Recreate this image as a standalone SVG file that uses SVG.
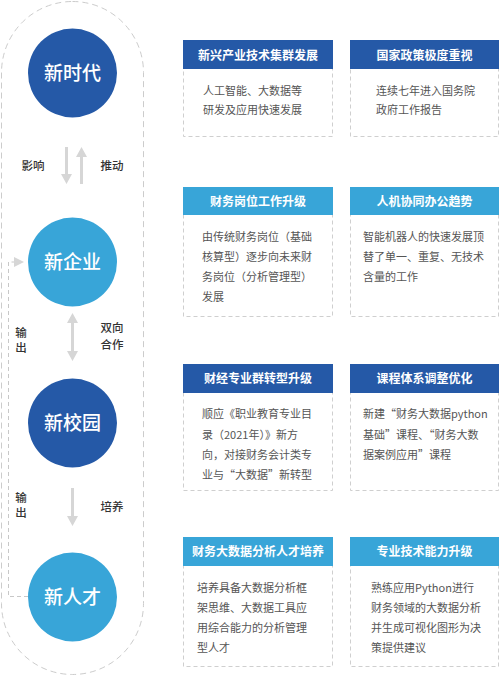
<svg xmlns="http://www.w3.org/2000/svg" width="500" height="677" viewBox="0 0 500 677">
<style>
  text { font-family: "Noto Sans CJK SC", "Noto Sans", sans-serif; }
  .circ-text { font-size: 19px; fill: #ffffff; text-anchor: middle; font-weight: 500; }
  .lbl { font-size: 11.5px; fill: #333333; font-weight: 500; }
  .hdr-text { font-size: 12px; fill: #ffffff; font-weight: 700; text-anchor: middle; }
  .body-text { font-size: 11px; fill: #555555; }
  .fw { font-feature-settings: "fwid" 1; }
  .dark { fill: #2559a7; }
  .light { fill: #38a5d8; }
  .box { fill: #ffffff; stroke: #cfcfcf; stroke-width: 1; stroke-dasharray: 4 3; }
  .arrow { fill: #d6d6d6; }
  .dash { fill: none; stroke: #c8c8c8; stroke-width: 1; stroke-dasharray: 4 3; }
</style>
<rect width="500" height="677" fill="#ffffff"/>

<!-- outer pill -->
<rect x="1.5" y="1.5" width="142" height="673" rx="71" ry="71" fill="none" stroke="#cccccc" stroke-width="1" stroke-dasharray="6 4"/>

<g id="connectors">
  <!-- 新时代 -> 新企业 (down) -->
  <path class="arrow" d="M65,147 H68 V174 H72 L66.5,184 L61,174 H65 Z"/>
  <!-- 新企业 -> 新时代 (up) -->
  <path class="arrow" d="M80,184 H83 V157 H87 L81.5,147 L76,157 H80 Z"/>
  <!-- 新企业 <-> 新校园 -->
  <path class="arrow" d="M72.5,313 L78,323 H74 V351 H78 L72.5,361 L67,351 H71 V323 H67 Z"/>
  <!-- 新校园 -> 新人才 -->
  <path class="arrow" d="M71,488 H74 V516 H78 L72.5,526 L67,516 H71 Z"/>
  <!-- feedback 新人才 -> 新企业 -->
  <path class="dash" d="M28,596.5 H8.5 V262 H14"/>
  <path class="arrow" d="M14,257 L24,262 L14,267 Z"/>
  <text class="lbl" x="33" y="170" text-anchor="middle">影响</text>
  <text class="lbl" x="112" y="170" text-anchor="middle">推动</text>
  <text class="lbl" x="112" y="332" text-anchor="middle">双向</text>
  <text class="lbl" x="112" y="349" text-anchor="middle">合作</text>
  <text class="lbl" x="21" y="337" text-anchor="middle">输</text>
  <text class="lbl" x="21" y="352" text-anchor="middle">出</text>
  <text class="lbl" x="112" y="511" text-anchor="middle">培养</text>
  <text class="lbl" x="21" y="502" text-anchor="middle">输</text>
  <text class="lbl" x="21" y="517" text-anchor="middle">出</text>
</g>

<g id="node-xinshidai">
  <circle class="dark" cx="72.5" cy="73" r="44.5"/>
  <text class="circ-text" x="72.5" y="80">新时代</text>
</g>
<g id="node-xinqiye">
  <circle class="light" cx="72.5" cy="262" r="44.5"/>
  <text class="circ-text" x="72.5" y="269">新企业</text>
</g>
<g id="node-xinxiaoyuan">
  <circle class="dark" cx="72.5" cy="423" r="44.5"/>
  <text class="circ-text" x="72.5" y="430">新校园</text>
</g>
<g id="node-xinrencai">
  <circle class="light" cx="72.5" cy="597" r="44.5"/>
  <text class="circ-text" x="72.5" y="604">新人才</text>
</g>

<!-- Row 1 -->
<g id="box-1a">
  <rect class="box" x="183.5" y="40.5" width="149" height="96"/>
  <rect class="dark" x="183" y="40" width="150" height="29"/>
  <text class="hdr-text" x="258" y="59.5">新兴产业技术集群发展</text>
  <text class="body-text" x="203" y="95">人工智能、大数据等</text>
  <text class="body-text" x="203" y="114">研发及应用快速发展</text>
</g>
<g id="box-1b">
  <rect class="box" x="350.5" y="40.5" width="148" height="96"/>
  <rect class="dark" x="350" y="40" width="149" height="29"/>
  <text class="hdr-text" x="424.5" y="59.5">国家政策极度重视</text>
  <text class="body-text" x="376" y="95">连续七年进入国务院</text>
  <text class="body-text" x="376" y="114">政府工作报告</text>
</g>

<!-- Row 2 -->
<g id="box-2a">
  <rect class="box" x="183.5" y="187.5" width="149" height="129"/>
  <rect class="light" x="183" y="187" width="150" height="28"/>
  <text class="hdr-text" x="258" y="205.5">财务岗位工作升级</text>
  <text class="body-text" x="202" y="241">由传统财务岗位（基础</text>
  <text class="body-text" x="202" y="261">核算型）逐步向未来财</text>
  <text class="body-text" x="202" y="281">务岗位（分析管理型）</text>
  <text class="body-text" x="202" y="301">发展</text>
</g>
<g id="box-2b">
  <rect class="box" x="350.5" y="187.5" width="148" height="129"/>
  <rect class="light" x="350" y="187" width="149" height="28"/>
  <text class="hdr-text" x="424.5" y="205.5">人机协同办公趋势</text>
  <text class="body-text" x="363" y="241">智能机器人的快速发展顶</text>
  <text class="body-text" x="363" y="261">替了单一、重复、无技术</text>
  <text class="body-text" x="363" y="281">含量的工作</text>
</g>

<!-- Row 3 -->
<g id="box-3a">
  <rect class="box" x="183.5" y="364.5" width="149" height="126"/>
  <rect class="dark" x="183" y="364" width="150" height="29"/>
  <text class="hdr-text" x="258" y="382.5">财经专业群转型升级</text>
  <text class="body-text" x="202" y="418">顺应《职业教育专业目</text>
  <text class="body-text" x="202" y="439">录（2021年）》新方</text>
  <text class="body-text" x="202" y="459">向，对接财务会计类专</text>
  <text class="body-text" x="202" y="479">业与<tspan class="fw">“</tspan>大数据<tspan class="fw">”</tspan>新转型</text>
</g>
<g id="box-3b">
  <rect class="box" x="350.5" y="364.5" width="148" height="126"/>
  <rect class="dark" x="350" y="364" width="149" height="29"/>
  <text class="hdr-text" x="424.5" y="382.5">课程体系调整优化</text>
  <text class="body-text" x="363" y="418">新建<tspan class="fw">“</tspan>财务大数据python</text>
  <text class="body-text" x="363" y="439">基础<tspan class="fw">”</tspan>课程、<tspan class="fw">“</tspan>财务大数</text>
  <text class="body-text" x="363" y="459">据案例应用<tspan class="fw">”</tspan>课程</text>
</g>

<!-- Row 4 -->
<g id="box-4a">
  <rect class="box" x="183.5" y="537.5" width="149" height="129"/>
  <rect class="light" x="183" y="537" width="150" height="29"/>
  <text class="hdr-text" x="258" y="556">财务大数据分析人才培养</text>
  <text class="body-text" x="197" y="592">培养具备大数据分析框</text>
  <text class="body-text" x="197" y="612">架思维、大数据工具应</text>
  <text class="body-text" x="197" y="632">用综合能力的分析管理</text>
  <text class="body-text" x="197" y="652">型人才</text>
</g>
<g id="box-4b">
  <rect class="box" x="350.5" y="537.5" width="148" height="129"/>
  <rect class="light" x="350" y="537" width="149" height="29"/>
  <text class="hdr-text" x="424.5" y="556">专业技术能力升级</text>
  <text class="body-text" x="371" y="592">熟练应用Python进行</text>
  <text class="body-text" x="371" y="612">财务领域的大数据分析</text>
  <text class="body-text" x="371" y="632">并生成可视化图形为决</text>
  <text class="body-text" x="371" y="652">策提供建议</text>
</g>
</svg>
